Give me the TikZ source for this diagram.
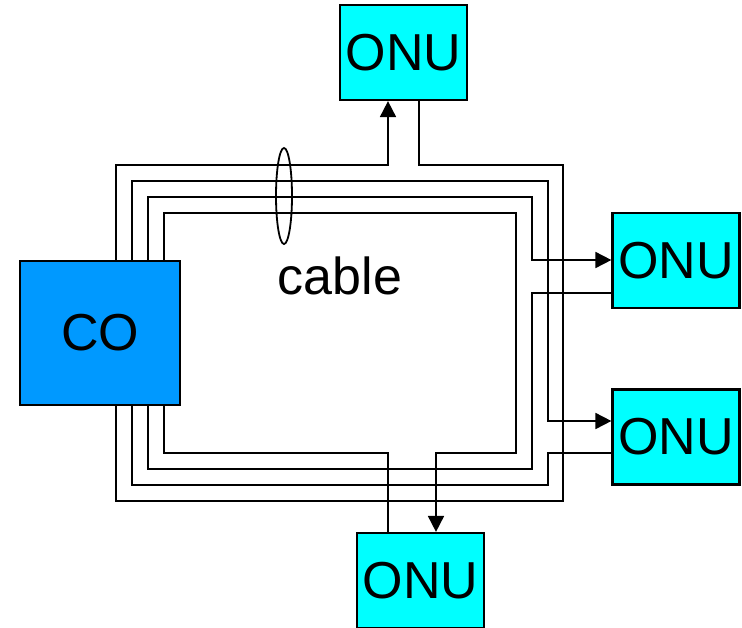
\documentclass[tikz,border=0pt]{standalone}
\usepackage{fontspec}
\setmainfont{Liberation Sans}
\usetikzlibrary{arrows.meta}
\definecolor{cofill}{RGB}{0,153,255}
\definecolor{onufill}{RGB}{0,255,255}
\begin{document}
\begin{tikzpicture}[x=1pt,y=-1pt,
  box/.style={draw=black,line width=2.2pt,inner sep=0pt,font=\fontsize{52}{60}\selectfont},
  cobox/.style={box,fill=cofill,minimum width=160pt,minimum height=144pt},
  onubox/.style={box,fill=onufill,minimum width=127pt,minimum height=95pt},
  wire/.style={line width=1.8pt},
  arr/.style={wire,-{Triangle[length=16pt,width=16pt]}}]
\clip (0,0) rectangle (742,627);
\useasboundingbox (0,0) rectangle (742,627);
\node[cobox] (CO) at (100,333) {CO};
\node[onubox] (ONUt) at (403.5,52.5) {ONU};
\node[onubox] (ONU1) at (676,260.5) {ONU};
\node[onubox] (ONU2) at (676,437) {ONU};
\node[onubox] (ONUb) at (420.5,580.5) {ONU};
% loop 1 (outer) -> top ONU
\draw[arr] (CO.north -| 116,0) |- (388,165) -- (ONUt.south -| 388,0);
\draw[wire] (ONUt.south -| 419,0) |- (563,165) |- (116,501) -- (CO.south -| 116,0);
% loop 2 -> ONU2
\draw[arr] (CO.north -| 132,0) |- (548,181) |- (ONU2.west |- 0,421);
\draw[wire] (ONU2.west |- 0,453) -| (548,485) -| (CO.south -| 132,0);
% loop 3 -> ONU1
\draw[arr] (CO.north -| 148,0) |- (532,197) |- (ONU1.west |- 0,260);
\draw[wire] (ONU1.west |- 0,293) -| (532,469) -| (CO.south -| 148,0);
% loop 4 -> bottom ONU
\draw[arr] (CO.north -| 164,0) |- (516,213) |- (436,453) -- (ONUb.north -| 436,0);
\draw[wire] (ONUb.north -| 388,0) |- (164,453) -- (CO.south -| 164,0);
% cable marker
\draw[wire] (284,196) ellipse [x radius=8pt, y radius=48pt];
\node[font=\fontsize{52}{60}\selectfont] (cable) at (340,276) {cable};
\end{tikzpicture}
\end{document}
